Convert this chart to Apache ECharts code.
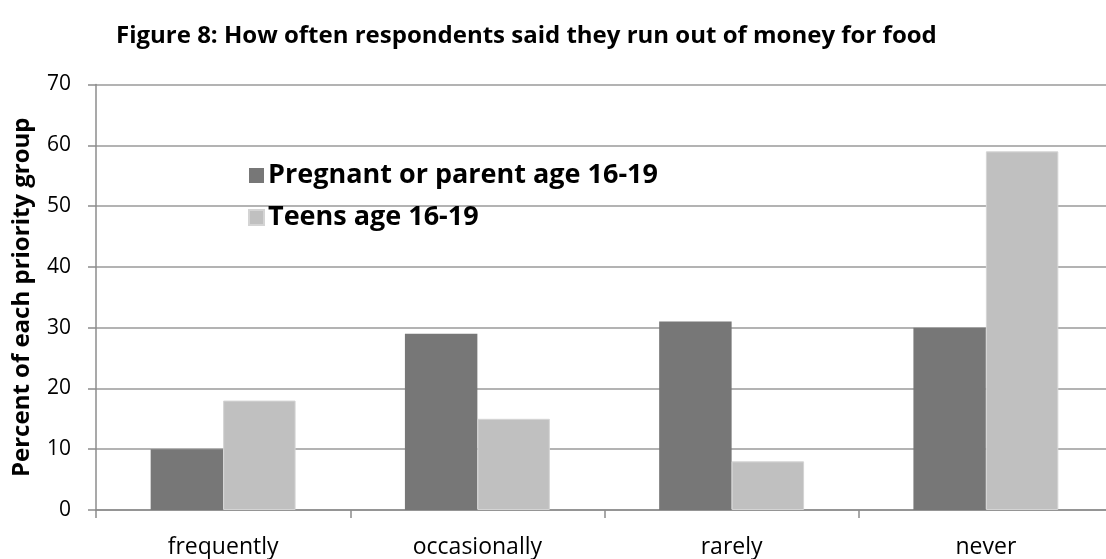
<!DOCTYPE html>
<html>
<head>
<meta charset="utf-8">
<script src="https://cdn.jsdelivr.net/npm/echarts@6/dist/echarts.min.js"></script>
<style>
  html, body { margin: 0; padding: 0; background: #ffffff; overflow: hidden; }
  /* the drawing surface is a little wider than the window, so the plot runs off the right edge */
  #chart { width: 1120px; height: 559px; }
</style>
</head>
<body>
<div id="chart"></div>
<script>
// Survey answers: how often each group runs out of money for food (percent)
const categories = ['frequently', 'occasionally', 'rarely', 'never'];
const pregnantOrParent = [10, 29, 31, 30];
const teens = [18, 15, 8, 59];
const seriesNames = ['Pregnant or parent age 16-19', 'Teens age 16-19'];
const yTicks = { min: 0, max: 70, interval: 10 };

const FONT = '"Open Sans", "Noto Sans", sans-serif';
const AXIS_GREY = '#8c8c8c';

const chart = echarts.init(document.getElementById('chart'), null, { renderer: 'canvas' });
chart.setOption({
  backgroundColor: '#ffffff',
  animation: false,
  title: {
    text: 'Figure 8: How often respondents said they run out of money for food',
    left: 111,
    top: 19,
    textStyle: { fontFamily: FONT, fontWeight: 'bold', fontSize: 24, color: '#000000' }
  },
  legend: {
    orient: 'vertical',
    left: 243,
    top: 156,
    itemWidth: 15,
    itemHeight: 15,
    itemGap: 13,
    icon: 'rect',
    textStyle: { fontFamily: FONT, fontWeight: 'bold', fontSize: 27, lineHeight: 29, color: '#000000', padding: [0, 0, 0, -1] },
    data: seriesNames
  },
  grid: { left: 96, right: 7, top: 84.5, bottom: 49 },
  xAxis: {
    type: 'category',
    data: categories,
    axisLine: { lineStyle: { color: AXIS_GREY, width: 1.5 } },
    axisTick: { show: true, alignWithLabel: false, length: 8, lineStyle: { color: AXIS_GREY, width: 1.5 } },
    axisLabel: { fontFamily: FONT, fontSize: 23, color: '#000000', margin: 26 },
    splitLine: { show: false }
  },
  yAxis: {
    type: 'value',
    min: yTicks.min,
    max: yTicks.max,
    interval: yTicks.interval,
    name: 'Percent of each priority group',
    nameLocation: 'middle',
    nameGap: 62,
    nameTextStyle: { fontFamily: FONT, fontWeight: 'bold', fontSize: 24, color: '#000000' },
    axisLine: { show: true, lineStyle: { color: AXIS_GREY, width: 1.5 } },
    axisTick: { show: true, length: 8, lineStyle: { color: AXIS_GREY, width: 1.5 } },
    axisLabel: { fontFamily: FONT, fontSize: 21, color: '#000000', margin: 25 },
    splitLine: { show: true, lineStyle: { color: '#9a9a9a', width: 1.5 } }
  },
  series: [
    {
      name: seriesNames[0],
      type: 'bar',
      data: pregnantOrParent,
      barGap: '0%',
      barCategoryGap: '43%',
      itemStyle: { color: '#777777' }
    },
    {
      name: seriesNames[1],
      type: 'bar',
      data: teens,
      itemStyle: { color: '#c0c0c0', borderColor: '#d4d4d4', borderWidth: 1 }
    }
  ]
});
</script>
</body>
</html>
